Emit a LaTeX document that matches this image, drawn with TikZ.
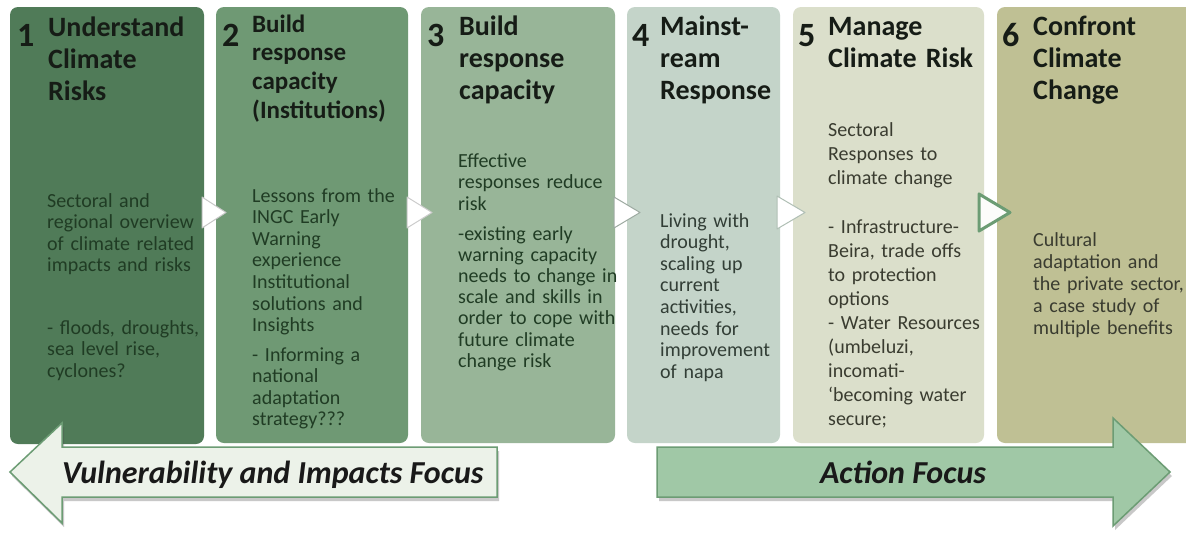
\documentclass[tikz,border=0pt]{standalone}
\usepackage{fontspec}
\setmainfont{Carlito}
\usetikzlibrary{shadows}

% column fills
\definecolor{colA}{RGB}{80,123,88}
\definecolor{colB}{RGB}{111,153,116}
\definecolor{colC}{RGB}{152,181,152}
\definecolor{colD}{RGB}{196,212,201}
\definecolor{colE}{RGB}{219,223,203}
\definecolor{colF}{RGB}{191,192,148}
% text colours
\definecolor{headtext}{RGB}{22,28,22}
\definecolor{bodyA}{RGB}{32,60,36}
\definecolor{bodyB}{RGB}{50,62,54}
\definecolor{bodyC}{RGB}{58,60,48}
% banners
\definecolor{leftfill}{RGB}{236,242,233}
\definecolor{rightfill}{RGB}{160,200,166}
\definecolor{bannerline}{RGB}{108,156,116}

\tikzset{
  column/.style={rounded corners=8pt},
  stepnum/.style={anchor=base west, inner sep=0pt, text=headtext,
    font=\bfseries\fontsize{34}{34}\selectfont},
  head/.style={anchor=base west, inner sep=0pt, text width=180pt, align=left,
    text=headtext, font=\bfseries\fontsize{28}{32.3}\selectfont},
  body/.style={anchor=base west, inner sep=0pt, text width=180pt, align=left,
    font=\fontsize{20}{21.6}\selectfont},
  chev/.style={fill=white, line width=1pt, line join=round},
  banner/.style={line width=1.5pt, draw=bannerline, line join=miter,
    drop shadow={shadow xshift=2pt, shadow yshift=-4pt, opacity=0.3, fill=black!70}},
  bannertext/.style={inner sep=0pt, text=black!90,
    font=\bfseries\itshape\fontsize{32}{32}\selectfont}
}

\begin{document}
\begin{tikzpicture}[x=1pt,y=-1pt]
\useasboundingbox[fill=white] (0,0) rectangle (1186,533);

% the six columns
\fill[column, colA] (10,7)   rectangle (204,444);
\fill[column, colB] (216,7)  rectangle (408,443);
\fill[column, colC] (421,7)  rectangle (615,443);
\fill[column, colD] (627,7)  rectangle (780,443);
\fill[column, colE] (793,7)  rectangle (984,443);
\fill[column, colF] (997,7)  rectangle (1196,443);

% step numbers
\node[stepnum] (n1) at (17,46)   {1};
\node[stepnum] (n2) at (222,46)  {2};
\node[stepnum] (n3) at (427,46)  {3};
\node[stepnum] (n4) at (632,46)  {4};
\node[stepnum] (n5) at (798,46)  {5};
\node[stepnum] (n6) at (1002,46) {6};

% headings
\node[head] (h1) at (48,36)   {Understand\\Climate\\Risks};
\node[head, font=\bfseries\fontsize{25}{28.9}\selectfont] (h2) at (252,32)
  {Build\\response\\capacity\\(Institutions)};
\node[head] (h3) at (459,35)  {Build\\response\\capacity};
\node[head] (h4) at (660,35)  {Mainst-\\ream\\Response};
\node[head] (h5) at (828,35)  {Manage\\Climate Risk};
\node[head] (h6) at (1033,35) {Confront\\Climate\\Change};

% column 1 text
\node[body, text=bodyA] (b1a) at (47,207)
  {Sectoral and\\regional overview\\of climate related\\impacts and risks};
\node[body, text=bodyA] (b1b) at (47,334)
  {- floods, droughts,\\sea level rise,\\cyclones?};

% column 2 text
\node[body, text=bodyA] (b2a) at (252,202)
  {Lessons from the\\INGC Early\\Warning\\experience\\Institutional\\solutions and\\Insights};
\node[body, text=bodyA] (b2b) at (252,361)
  {- Informing a\\national\\adaptation\\strategy???};

% column 3 text
\node[body, text=bodyA] (b3a) at (458,167)
  {Effective\\responses reduce\\risk};
\node[body, text=bodyA, font=\fontsize{20}{21.2}\selectfont] (b3b) at (458,240)
  {-existing early\\warning capacity\\needs to change in\\scale and skills in\\order to cope with\\future climate\\change risk};

% column 4 text
\node[body, text=bodyB] (b4a) at (660,227)
  {Living with\\drought,\\scaling up\\current\\activities,\\needs for\\improvement\\of napa};

% column 5 text
\node[body, text=bodyC, font=\fontsize{20}{24}\selectfont] (b5a) at (828,136)
  {Sectoral\\Responses to\\climate change};
\node[body, text=bodyC, font=\fontsize{20}{24}\selectfont] (b5b) at (828,233)
  {- Infrastructure-\\Beira, trade offs\\to protection\\options\\- Water Resources\\(umbeluzi,\\incomati-\\‘becoming water\\secure;};

% column 6 text
\node[body, text=bodyC, font=\fontsize{20}{22}\selectfont] (b6a) at (1033,246)
  {Cultural\\adaptation and\\the private sector,\\a case study of\\multiple benefits};

% chevrons between the columns
\filldraw[chev, draw=black!22]           (202,197) -- (226,212.5) -- (202,228) -- cycle;
\filldraw[chev, draw=black!20]           (407,197) -- (432,212.5) -- (407,228) -- cycle;
\filldraw[chev, draw=colD!80!black]      (614,197) -- (640,212.5) -- (614,228) -- cycle;
\filldraw[chev, draw=colD!90!black]      (777,196) -- (805,212.5) -- (777,229) -- cycle;
\filldraw[chev, draw=bannerline, line width=3pt, fill=white!92!colE]
                                         (979,194) -- (1010,212.5) -- (979,231) -- cycle;

% focus banners
\filldraw[banner, fill=leftfill]
  (10,472) -- (62,423) -- (62,447) -- (497,447) -- (497,497) -- (62,497) -- (62,523) -- cycle;
\filldraw[banner, fill=rightfill]
  (657,447) -- (1113,447) -- (1113,418) -- (1170,472) -- (1113,526) -- (1113,497) -- (657,497) -- cycle;

\node[bannertext, anchor=base west] (vf) at (62,483) {Vulnerability and Impacts Focus};
\node[bannertext, anchor=base] (af) at (903,483) {Action Focus};
\end{tikzpicture}
\end{document}
